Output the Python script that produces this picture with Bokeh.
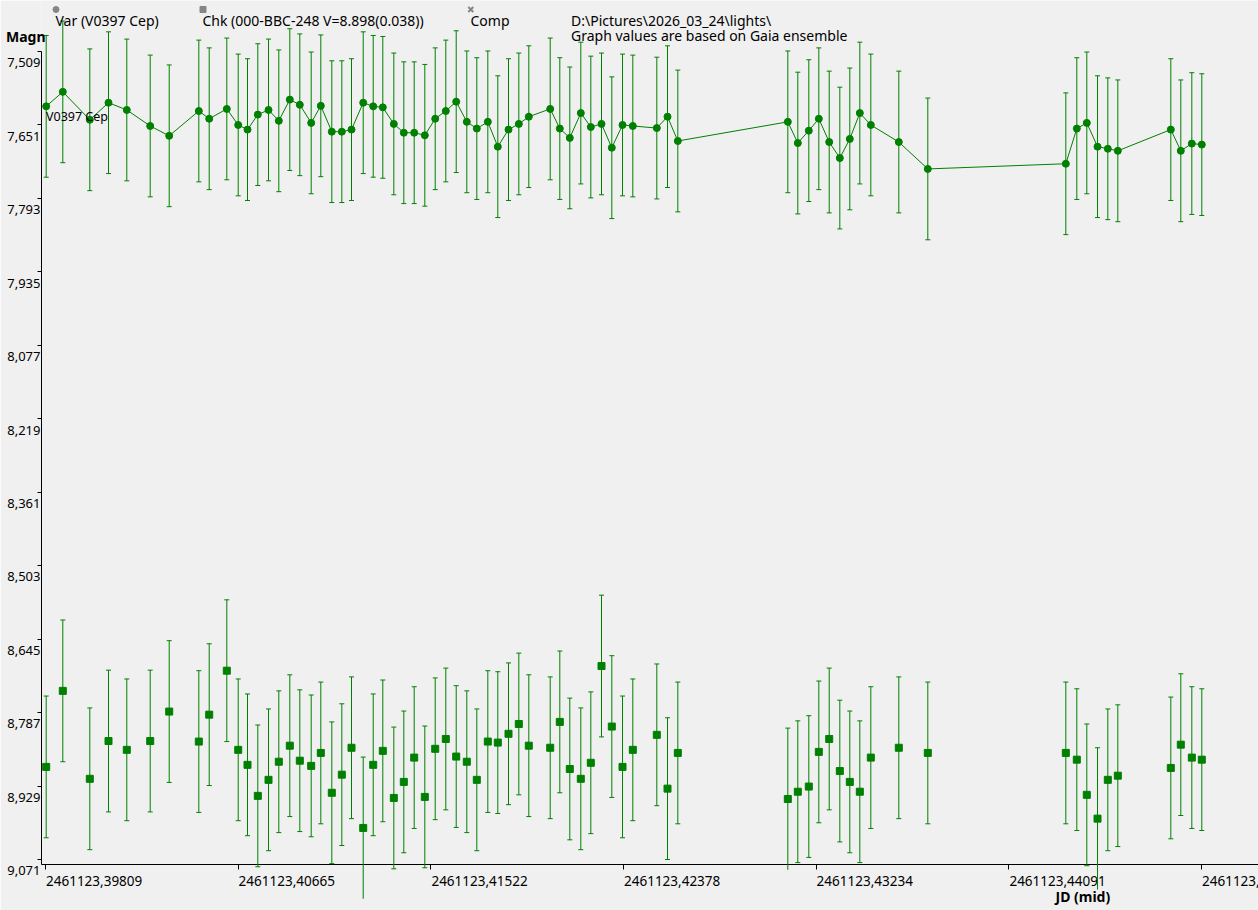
from bokeh.plotting import figure
from bokeh.models import Range1d, FixedTicker, CustomJSTickFormatter
from bokeh.core.properties import value
from bokeh.embed import file_html
from bokeh.resources import INLINE

# ---------------- data ----------------
jd = [2461123.398121, 2461123.398859, 2461123.400059, 2461123.400890, 2461123.401703,
      2461123.402744, 2461123.403588, 2461123.404904, 2461123.405366, 2461123.406148,
      2461123.406655, 2461123.407068, 2461123.407526, 2461123.408002, 2461123.408459,
      2461123.408948, 2461123.409393, 2461123.409899, 2461123.410326, 2461123.410815,
      2461123.411260, 2461123.411691, 2461123.412211, 2461123.412655, 2461123.413082,
      2461123.413571, 2461123.414015, 2461123.414477, 2461123.414949, 2461123.415411,
      2461123.415882, 2461123.416344, 2461123.416815, 2461123.417260, 2461123.417749,
      2461123.418193, 2461123.418669, 2461123.419127, 2461123.419571, 2461123.420522,
      2461123.420949, 2461123.421393, 2461123.421882, 2461123.422327, 2461123.422802,
      2461123.423260, 2461123.423736, 2461123.424193, 2461123.425260, 2461123.425736,
      2461123.426194, 2461123.431083, 2461123.431527, 2461123.432016, 2461123.432461,
      2461123.432923, 2461123.433394, 2461123.433838, 2461123.434283, 2461123.434772,
      2461123.436016, 2461123.437305, 2461123.443439, 2461123.443928, 2461123.444372,
      2461123.444848, 2461123.445306, 2461123.445750, 2461123.448106, 2461123.448550,
      2461123.449039, 2461123.449483]

var_mag = [7.615, 7.587, 7.641, 7.608, 7.622, 7.653, 7.672, 7.624, 7.639, 7.620,
           7.651, 7.660, 7.631, 7.622, 7.643, 7.602, 7.612, 7.647, 7.614, 7.664,
           7.664, 7.660, 7.608, 7.615, 7.617, 7.649, 7.666, 7.666, 7.671, 7.639,
           7.624, 7.606, 7.645, 7.658, 7.645, 7.693, 7.660, 7.649, 7.635, 7.620,
           7.658, 7.676, 7.628, 7.655, 7.649, 7.695, 7.651, 7.653, 7.657, 7.635,
           7.682, 7.645, 7.686, 7.662, 7.639, 7.684, 7.715, 7.678, 7.628, 7.651,
           7.684, 7.736, 7.726, 7.658, 7.647, 7.693, 7.697, 7.701, 7.660, 7.701,
           7.687, 7.689]

var_err = [0.137, 0.137, 0.137, 0.137, 0.137, 0.137, 0.137, 0.137, 0.137, 0.137,
           0.137, 0.137, 0.137, 0.137, 0.137, 0.137, 0.137, 0.137, 0.137, 0.137,
           0.137, 0.137, 0.137, 0.137, 0.137, 0.137, 0.137, 0.137, 0.137, 0.137,
           0.137, 0.137, 0.137, 0.137, 0.137, 0.137, 0.137, 0.137, 0.137, 0.137,
           0.137, 0.137, 0.137, 0.137, 0.137, 0.137, 0.137, 0.137, 0.137, 0.137,
           0.137, 0.137, 0.137, 0.137, 0.137, 0.137, 0.137, 0.137, 0.137, 0.137,
           0.137, 0.137, 0.137, 0.137, 0.137, 0.137, 0.137, 0.137, 0.137, 0.137,
           0.137, 0.137]

chk_mag = [8.892, 8.745, 8.915, 8.842, 8.859, 8.842, 8.785, 8.843, 8.791, 8.706,
           8.859, 8.888, 8.948, 8.917, 8.882, 8.851, 8.880, 8.890, 8.865, 8.942,
           8.907, 8.855, 9.010, 8.888, 8.861, 8.952, 8.921, 8.874, 8.950, 8.857,
           8.838, 8.872, 8.882, 8.917, 8.843, 8.845, 8.828, 8.809, 8.851, 8.855,
           8.805, 8.896, 8.915, 8.884, 8.697, 8.814, 8.892, 8.859, 8.830, 8.934,
           8.865, 8.954, 8.940, 8.930, 8.863, 8.838, 8.900, 8.921, 8.940, 8.874,
           8.855, 8.865, 8.865, 8.878, 8.946, 8.992, 8.917, 8.909, 8.894, 8.849,
           8.874, 8.878]

chk_err = [0.137, 0.137, 0.137, 0.137, 0.137, 0.137, 0.137, 0.137, 0.137, 0.137,
           0.137, 0.137, 0.137, 0.137, 0.137, 0.137, 0.137, 0.137, 0.137, 0.137,
           0.137, 0.137, 0.137, 0.137, 0.137, 0.137, 0.137, 0.137, 0.137, 0.137,
           0.137, 0.137, 0.137, 0.137, 0.137, 0.137, 0.137, 0.137, 0.137, 0.137,
           0.137, 0.137, 0.137, 0.137, 0.137, 0.137, 0.137, 0.137, 0.137, 0.137,
           0.137, 0.137, 0.137, 0.137, 0.137, 0.137, 0.137, 0.137, 0.137, 0.137,
           0.137, 0.137, 0.137, 0.137, 0.137, 0.137, 0.137, 0.137, 0.137, 0.137,
           0.137, 0.137]

x_ticks = [2461123.39809, 2461123.40665, 2461123.41522, 2461123.42378,
           2461123.43234, 2461123.44091, 2461123.44947]
x_tick_labels = ["2461123,39809", "2461123,40665", "2461123,41522", "2461123,42378",
                 "2461123,43234", "2461123,44091", "2461123,44947"]
y_ticks = [7.509, 7.651, 7.793, 7.935, 8.077, 8.219, 8.361, 8.503, 8.645, 8.787, 8.929, 9.071]
y_tick_labels = ["7,509", "7,651", "7,793", "7,935", "8,077", "8,219", "8,361",
                 "8,503", "8,645", "8,787", "8,929", "9,071"]

var_name = "Var (V0397 Cep)"
chk_name = "Chk (000-BBC-248 V=8.898(0.038))"
comp_name = "Comp"
path_text = "D:\\Pictures\\2026_03_24\\lights\\"
note_text = "Graph values are based on Gaia ensemble"
star_label = "V0397 Cep"
x_title = "JD (mid)"
y_title = "Magn"

# ---------------- layout ----------------
GREEN = "#008000"
BG = "#f0f0f0"
GRAY = "#858585"
FONT = "Noto Sans"

W, H = 1258, 910
BORDER_L, BORDER_B = 41, 46
X_START, X_END = 2461123.397912, 2461123.452003
Y_TOP, Y_BOTTOM = 7.41041, 9.08067
PX_PER_DAY = 22499.0
PX_PER_MAG = 517.3

p = figure(width=W, height=H, output_backend="svg", toolbar_location=None,
           x_range=Range1d(X_START, X_END), y_range=Range1d(Y_BOTTOM, Y_TOP),
           min_border_left=BORDER_L, min_border_right=0, min_border_top=0,
           min_border_bottom=BORDER_B, background_fill_color=BG,
           border_fill_color=BG, outline_line_color=None)
p.xgrid.visible = False
p.ygrid.visible = False

# x axis: line and ticks (labels are placed left-aligned below, as in the reference)
xa = p.xaxis[0]
xa.ticker = FixedTicker(ticks=x_ticks, minor_ticks=[])
xa.formatter = CustomJSTickFormatter(code='return "";')
xa.major_label_text_font_size = "0px"
xa.major_label_standoff = 0
xa.major_tick_out = 5
xa.major_tick_in = 0
xa.axis_line_color = "black"
xa.major_tick_line_color = "black"

# y axis
ya = p.yaxis[0]
ya.ticker = FixedTicker(ticks=y_ticks, minor_ticks=[])
ya.formatter = CustomJSTickFormatter(args=dict(vals=y_ticks, labs=y_tick_labels),
                                     code="const i = vals.indexOf(tick); return i < 0 ? '' : '\\n' + labs[i];")
ya.bounds = (y_ticks[0], Y_BOTTOM)
ya.major_tick_out = 4
ya.major_tick_in = 0
ya.major_label_standoff = -3
ya.major_label_text_font = FONT
ya.major_label_text_font_size = "13px"
ya.major_label_text_line_height = 1.2
ya.major_label_text_color = "black"
ya.axis_line_color = "black"


def dx(px):
    return X_START + (px - BORDER_L) / PX_PER_DAY


def dy(py):
    return Y_TOP + py / PX_PER_MAG


# x tick labels, left-aligned at their ticks
xt = p.text(x=x_ticks, y=[Y_BOTTOM] * len(x_ticks), text=x_tick_labels,
            text_font=value(FONT), text_font_size="13.5px", text_color="black",
            text_align="left", text_baseline="middle", x_offset=0.5, y_offset=16)
xt.level = "overlay"

# ---------------- data marks ----------------
var_lo = [m - e for m, e in zip(var_mag, var_err)]
var_hi = [m + e for m, e in zip(var_mag, var_err)]
chk_lo = [m - e for m, e in zip(chk_mag, chk_err)]
chk_hi = [m + e for m, e in zip(chk_mag, chk_err)]

rs = []
rs.append(p.segment(x0=jd, y0=var_lo, x1=jd, y1=var_hi, line_color=GREEN, line_width=1))
rs.append(p.scatter(jd, var_lo, marker="dash", size=5, line_color=GREEN, line_width=1))
rs.append(p.scatter(jd, var_hi, marker="dash", size=5, line_color=GREEN, line_width=1))
rs.append(p.line(jd, var_mag, line_color=GREEN, line_width=1))
rs.append(p.scatter(jd, var_mag, marker="circle", size=7, fill_color=GREEN, line_color=GREEN))

rs.append(p.segment(x0=jd, y0=chk_lo, x1=jd, y1=chk_hi, line_color=GREEN, line_width=1))
rs.append(p.scatter(jd, chk_lo, marker="dash", size=5, line_color=GREEN, line_width=1))
rs.append(p.scatter(jd, chk_hi, marker="dash", size=5, line_color=GREEN, line_width=1))
rs.append(p.scatter(jd, chk_mag, marker="square", size=7, fill_color=GREEN, line_color=GREEN))
for r in rs:
    r.level = "overlay"

# ---------------- legend swatches ----------------
sw = []
sw.append(p.scatter([dx(55.5)], [dy(9)], marker="circle", size=6, fill_color=GRAY, line_color=GRAY))
sw.append(p.scatter([dx(202.5)], [dy(9)], marker="square", size=6, fill_color=GRAY, line_color=GRAY))
sw.append(p.scatter([dx(470.3)], [dy(9)], marker="x", size=7, line_color=GRAY, line_width=2))
for r in sw:
    r.level = "overlay"


def add_text(txt, px, py, size="14px", bold=False):
    r = p.text(x=[dx(px)], y=[dy(py)], text=[txt], text_font=value(FONT),
               text_font_size=size, text_color="black", text_align="left",
               text_baseline="middle", text_font_style="bold" if bold else "normal")
    r.level = "overlay"


add_text(var_name, 55, 20.5)
add_text(chk_name, 202, 20.5)
add_text(comp_name, 470, 20.5)
add_text(path_text, 570.5, 20.5)
add_text(note_text, 570.5, 35.5)
add_text(y_title, 5.5, 36, size="14px", bold=True)
add_text(star_label, 45.5, 116, size="12.5px")
add_text(x_title, 1055, 896, size="14px", bold=True)

open("out.html", "w").write(file_html(p, INLINE))
